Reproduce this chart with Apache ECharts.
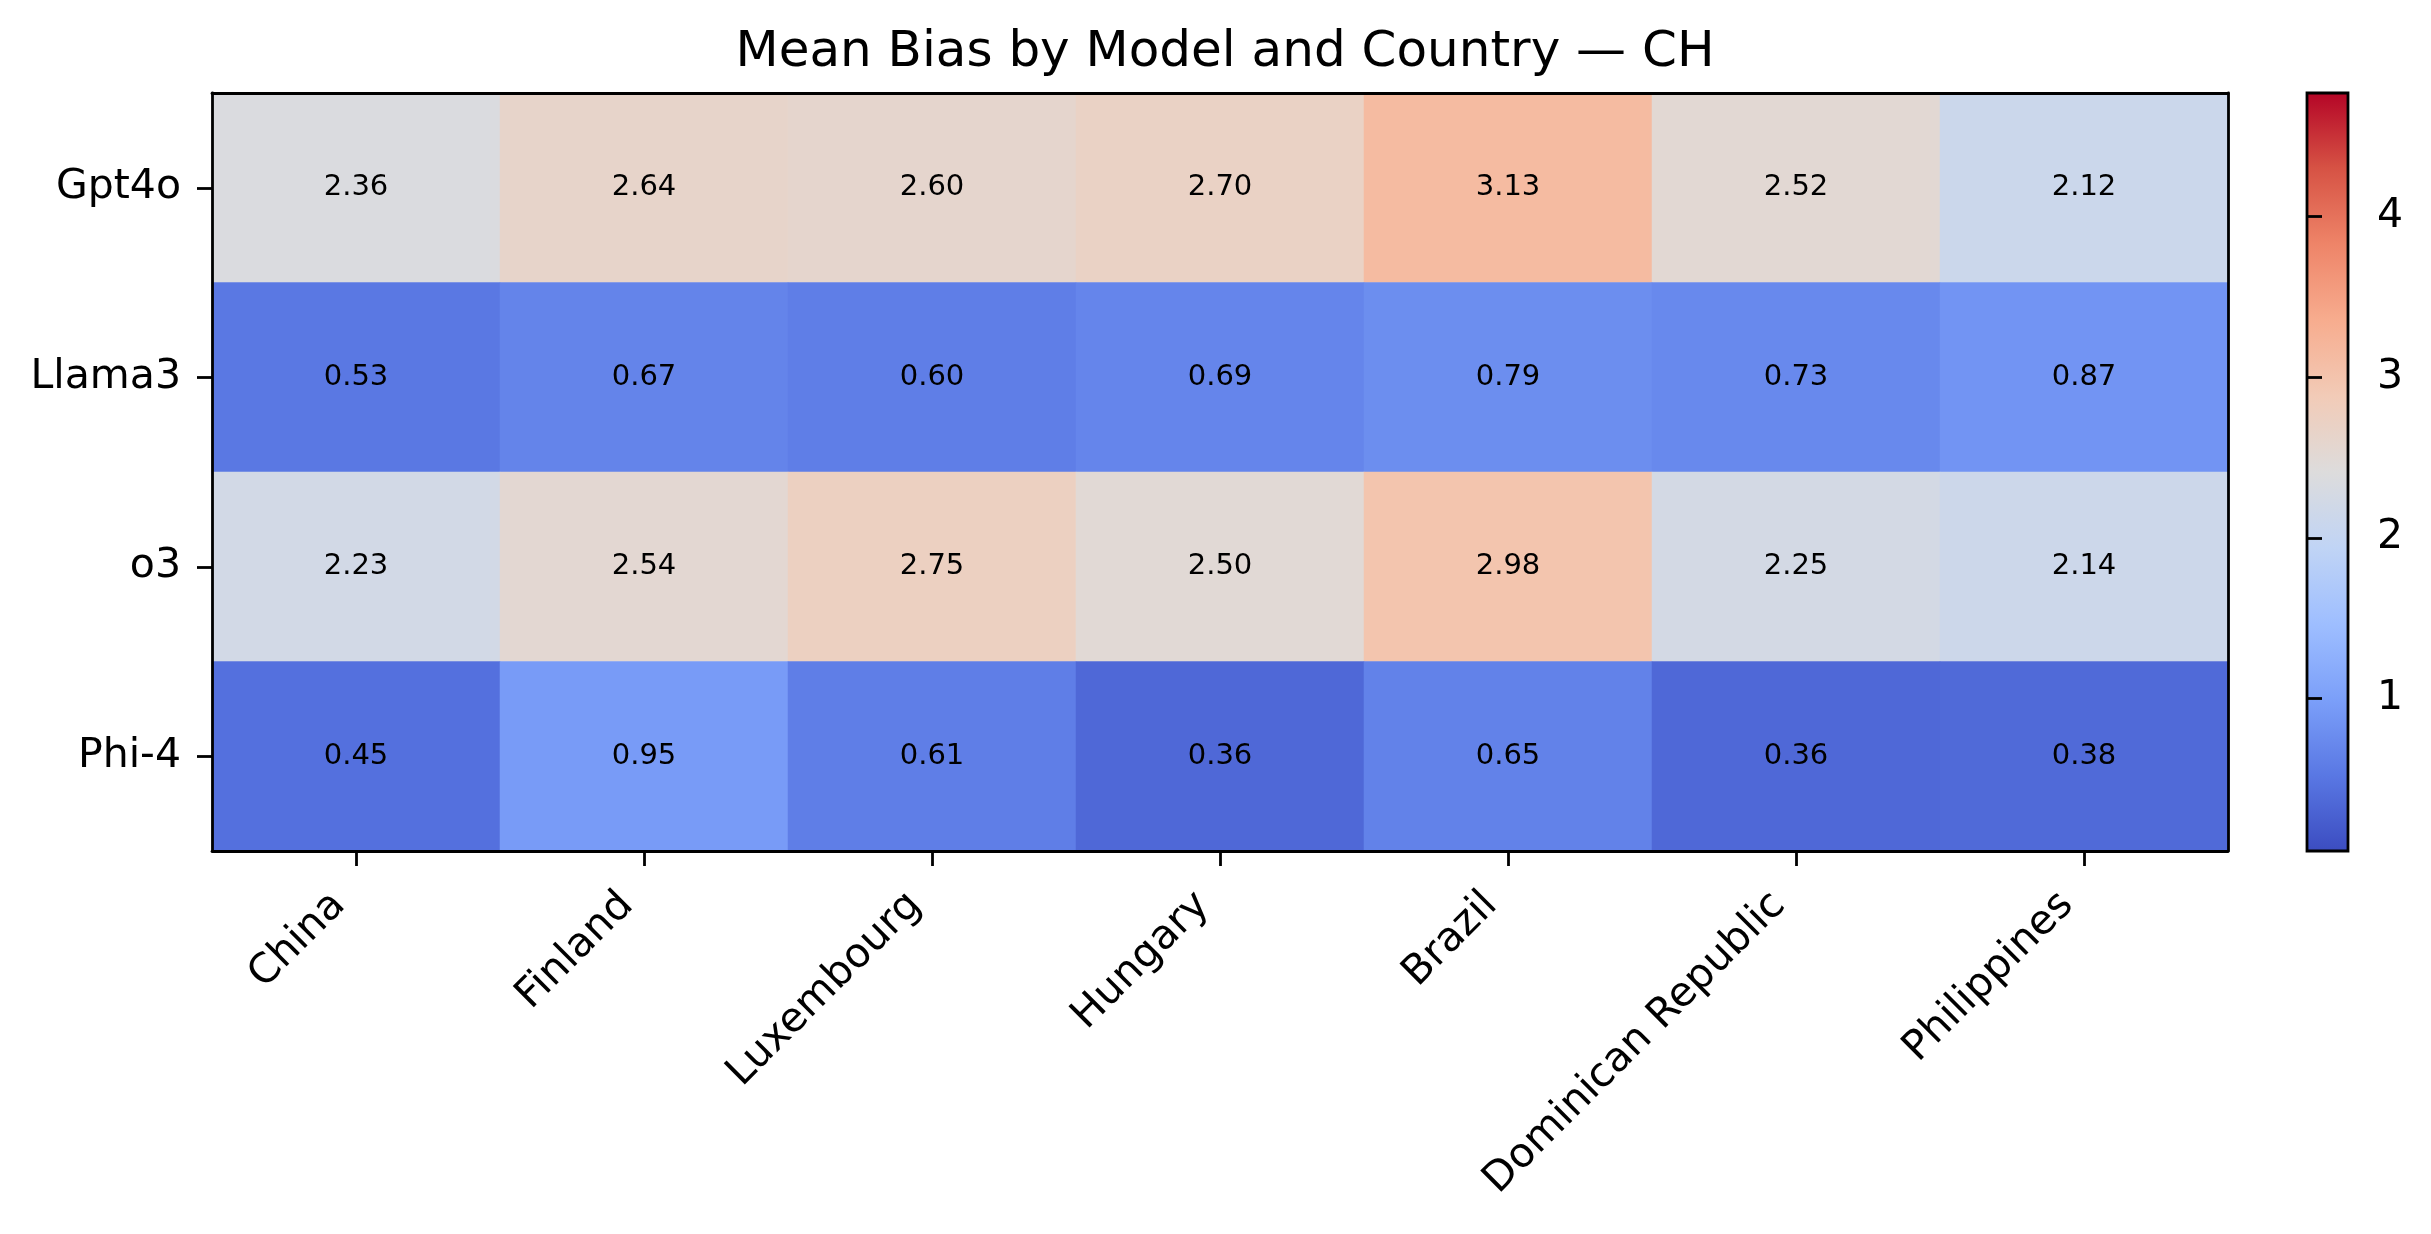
<!DOCTYPE html>
<html>
<head>
<meta charset="utf-8">
<script src="https://cdn.jsdelivr.net/npm/echarts@6/dist/echarts.min.js"></script>
<style>html,body{margin:0;padding:0;background:#fff;}#c{width:2431px;height:1234px;}</style>
</head>
<body>
<div id="c"></div>
<script>
const countries = ['China','Finland','Luxembourg','Hungary','Brazil','Dominican Republic','Philippines'];
const models = ['Gpt4o','Llama3','o3','Phi-4'];
const gpt4o  = [2.36, 2.64, 2.60, 2.70, 3.13, 2.52, 2.12];
const llama3 = [0.53, 0.67, 0.60, 0.69, 0.79, 0.73, 0.87];
const o3     = [2.23, 2.54, 2.75, 2.50, 2.98, 2.25, 2.14];
const phi4   = [0.45, 0.95, 0.61, 0.36, 0.65, 0.36, 0.38];
const colorbarTicks = [1, 2, 3, 4];
const vmin = 0.05, vmax = 4.77;
const coolwarm = ['#3b4cc0','#5977e3','#7b9ff9','#9ebeff','#c0d4f5','#dddcdc','#f2cbb7','#f7ac8e','#ee8468','#d65244','#b40426'];

const rows = [gpt4o, llama3, o3, phi4];
const data = [];
rows.forEach((r, yi) => r.forEach((v, xi) => data.push([xi, yi, v])));

const font = 'DejaVu Sans';
const lw = 2.8;
const chart = echarts.init(document.getElementById('c'));
chart.setOption({
  backgroundColor: '#fff',
  textStyle: {fontFamily: font, color: '#000'},
  title: {
    text: 'Mean Bias by Model and Country — CH',
    left: 1220, top: 23, textAlign: 'center',
    textStyle: {fontFamily: font, fontSize: 50, fontWeight: 'normal', color: '#000'}
  },
  grid: [
    {left: 212, width: 2016, top: 93, height: 758, show: false},
    {left: 2307, width: 41, top: 93, height: 758, show: true, borderColor: '#000', borderWidth: lw,
     backgroundColor: {type: 'linear', x: 0, y: 1, x2: 0, y2: 0,
       colorStops: coolwarm.map((c, i) => ({offset: i / (coolwarm.length - 1), color: c}))}}
  ],
  xAxis: [
    {type: 'category', data: countries, gridIndex: 0, position: 'bottom', z: 10,
     axisLine: {show: true, lineStyle: {color: '#000', width: lw}},
     axisTick: {show: true, alignWithLabel: true, length: 15, lineStyle: {color: '#000', width: lw}},
     axisLabel: {rotate: 45, fontSize: 41, color: '#000', fontFamily: font, margin: 31, padding: [0, 24, 0, 0], interval: 0},
     splitLine: {show: false}},
    {type: 'category', data: countries, gridIndex: 0, position: 'top', z: 10,
     axisLine: {show: true, lineStyle: {color: '#000', width: lw}},
     axisTick: {show: false}, axisLabel: {show: false}, splitLine: {show: false}},
    {type: 'value', gridIndex: 1, show: false, min: 0, max: 1}
  ],
  yAxis: [
    {type: 'category', data: models, gridIndex: 0, inverse: true, position: 'left', z: 10,
     axisLine: {show: true, lineStyle: {color: '#000', width: lw}},
     axisTick: {show: true, alignWithLabel: true, length: 15, lineStyle: {color: '#000', width: lw}},
     axisLabel: {fontSize: 41, color: '#000', fontFamily: font, margin: 31},
     splitLine: {show: false}},
    {type: 'category', data: models, gridIndex: 0, inverse: true, position: 'right', z: 10,
     axisLine: {show: true, lineStyle: {color: '#000', width: lw}},
     axisTick: {show: false}, axisLabel: {show: false}, splitLine: {show: false}},
    {type: 'value', gridIndex: 1, position: 'right', min: vmin, max: vmax,
     axisLine: {show: false},
     axisTick: {show: true, customValues: colorbarTicks, length: 15, lineStyle: {color: '#000', width: lw}},
     axisLabel: {show: true, customValues: colorbarTicks, fontSize: 41, color: '#000', fontFamily: font, margin: 29},
     splitLine: {show: false}}
  ],
  visualMap: {show: false, min: vmin, max: vmax, seriesIndex: 0, inRange: {color: coolwarm}},
  series: [
    {type: 'heatmap', xAxisIndex: 0, yAxisIndex: 0, data: data,
     label: {show: true, formatter: p => p.value[2].toFixed(2), fontSize: 29, color: '#000', fontFamily: font},
     itemStyle: {borderWidth: 0},
     emphasis: {disabled: true}},
    {type: 'line', xAxisIndex: 2, yAxisIndex: 2, data: [], silent: true}
  ]
});
</script>
</body>
</html>
